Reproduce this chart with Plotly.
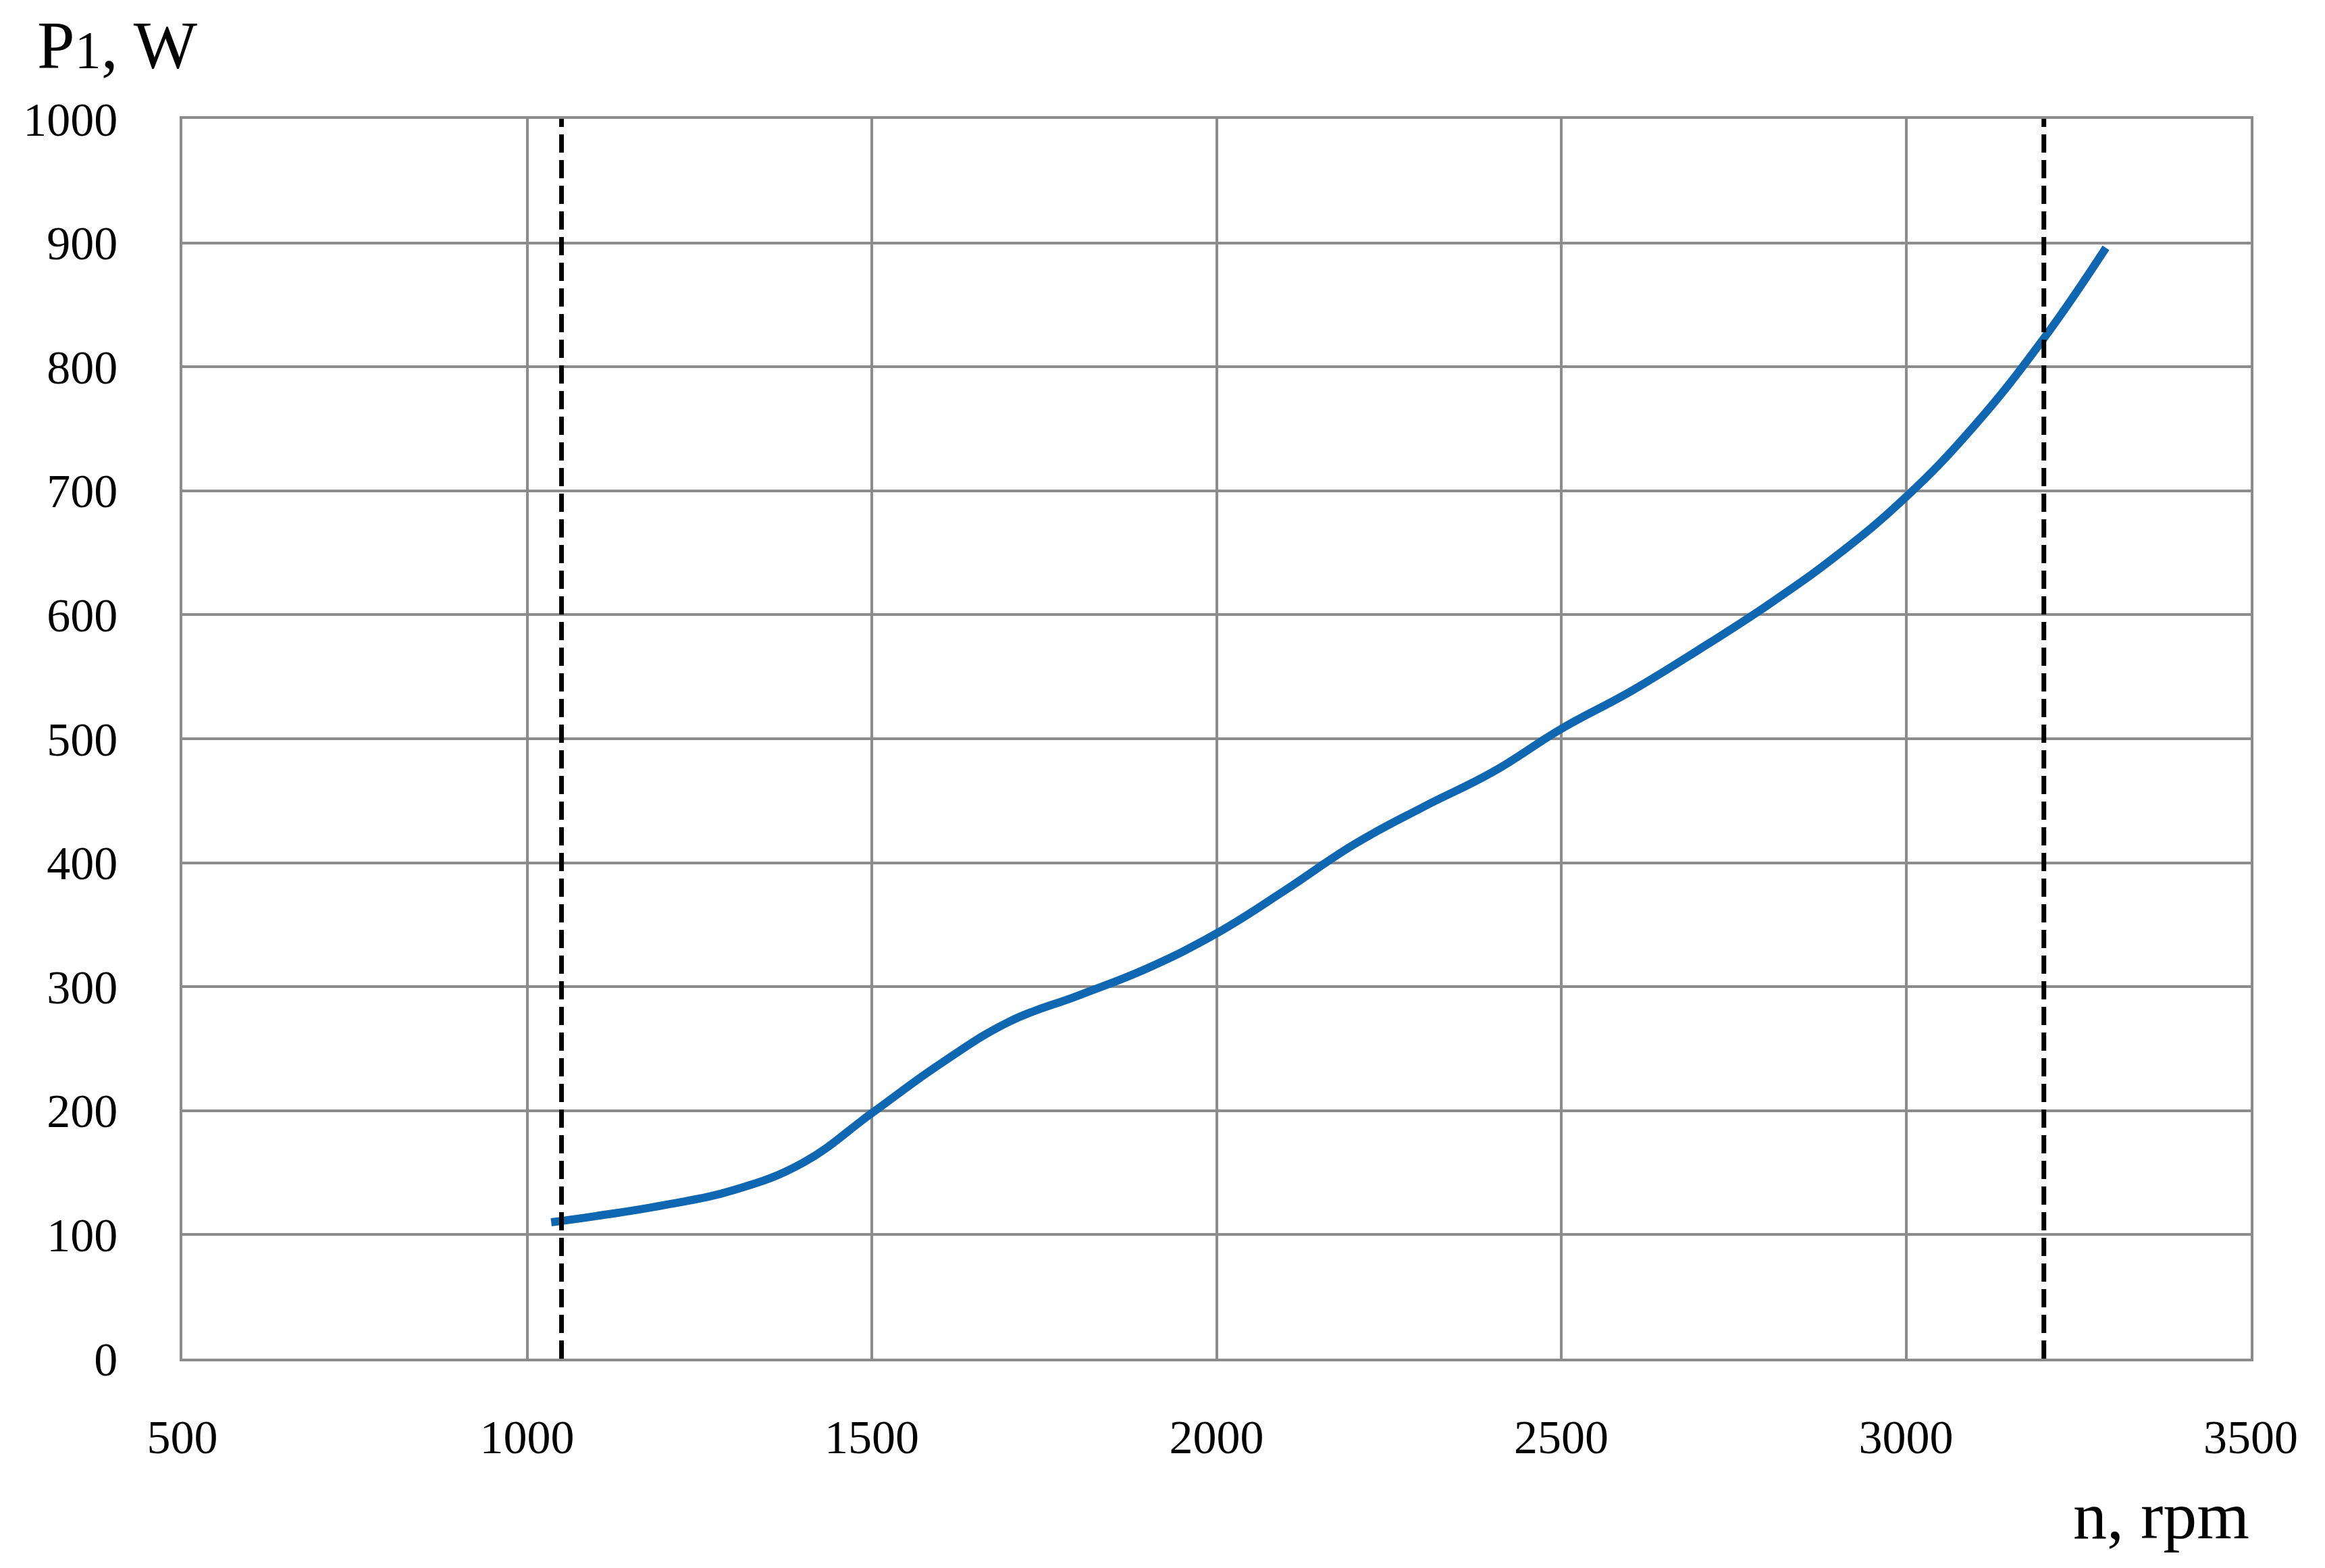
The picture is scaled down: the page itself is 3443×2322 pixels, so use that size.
import plotly.graph_objects as go

# data
speed_rpm = [1035, 1100, 1200, 1300, 1400, 1500, 1600, 1700, 1800, 1900, 2000,
             2100, 2200, 2300, 2400, 2500, 2600, 2700, 2800, 2900, 3000,
             3100, 3200, 3290]
power_w = [110, 115, 124, 136, 158, 198, 238, 272, 293, 315, 343,
           378, 415, 445, 473, 508, 538, 572, 608, 648, 695,
           753, 823, 896]
limit_rpm = [1050, 3200]
y_span = [0, 1000]
x_ticks = [500, 1000, 1500, 2000, 2500, 3000, 3500]
y_ticks = [0, 100, 200, 300, 400, 500, 600, 700, 800, 900, 1000]

FONT = "Liberation Serif"
GRID = "#8c8c8c"

fig = go.Figure()
fig.add_trace(go.Scatter(
    x=speed_rpm, y=power_w, mode="lines",
    line=dict(color="#0f67b1", width=12, shape="spline", smoothing=1.2),
    showlegend=False, hoverinfo="x+y"))
for xr in limit_rpm:
    fig.add_trace(go.Scatter(
        x=[xr, xr], y=y_span, mode="lines",
        line=dict(color="black", width=7, dash="27px,11px"),
        showlegend=False, hoverinfo="skip"))

fig.update_layout(
    width=3443, height=2322,
    paper_bgcolor="white", plot_bgcolor="white",
    margin=dict(l=262, r=118, t=168, b=318, autoexpand=False),
    font=dict(family=FONT, size=70, color="black"),
)
fig.update_xaxes(
    range=[500, 3500], tickvals=x_ticks, ticktext=[str(v) for v in x_ticks],
    showgrid=True, gridcolor=GRID, gridwidth=3.5,
    showline=True, linecolor=GRID, linewidth=3.5, mirror=True,
    ticks="", ticklabelstandoff=52, zeroline=False,
    tickfont=dict(family=FONT, size=70, color="black"))
fig.update_yaxes(
    range=[0, 1000], tickvals=y_ticks, ticktext=[str(v) for v in y_ticks],
    showgrid=True, gridcolor=GRID, gridwidth=3.5,
    showline=True, linecolor=GRID, linewidth=3.5, mirror=True,
    ticks="", ticklabelstandoff=78, zeroline=False,
    tickfont=dict(family=FONT, size=70, color="black"))

fig.add_annotation(
    text="P<span style='font-size:78px'>1</span>, W",
    xref="paper", yref="paper", x=-0.071, y=1.0, yshift=52,
    xanchor="left", yanchor="bottom", showarrow=False,
    font=dict(family=FONT, size=100, color="black"))
fig.add_annotation(
    text="n, rpm",
    xref="paper", yref="paper", x=1.0, y=0.0, yshift=-290,
    xanchor="right", yanchor="bottom", showarrow=False,
    font=dict(family=FONT, size=100, color="black"))

fig.write_html("out.html")
